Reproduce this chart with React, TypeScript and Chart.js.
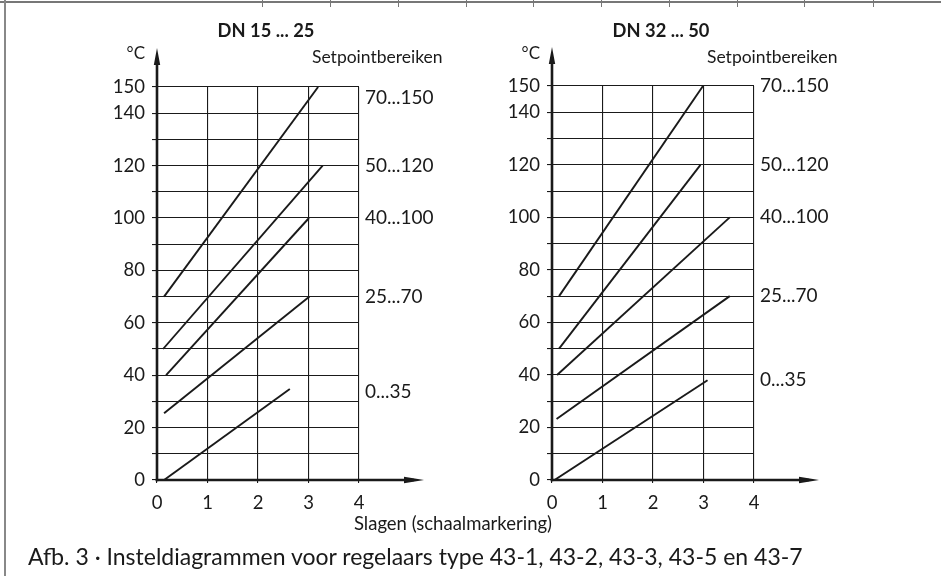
import React, { useEffect, useRef } from "react";
import { Chart, registerables } from "chart.js";

Chart.register(...registerables);

const FONT = "Lato, 'Open Sans', sans-serif";
const INK = "#1a1a1a";

// ---- data ----
const panelTitles = ["DN 15 ... 25", "DN 32 ... 50"];
const rangeLabels = ["70...150", "50...120", "40...100", "25...70", "0...35"];

// DN 15 ... 25
const leftStartX = [0.14, 0.12, 0.18, 0.14, 0.14];
const leftStartY = [70, 50, 40, 25.5, 0];
const leftEndX = [3.19, 3.28, 3.01, 3.02, 2.63];
const leftEndY = [150, 120, 100, 70, 34.7];
const leftLabelAt = [146, 120, 100, 70, 33.5];

// DN 32 ... 50
const rightStartX = [0.14, 0.14, 0.1, 0.09, 0.05];
const rightStartY = [70, 50, 40, 23.2, 0];
const rightEndX = [2.99, 2.94, 3.52, 3.52, 3.08];
const rightEndY = [150, 120, 100, 70, 38];
const rightLabelAt = [150, 120, 100, 70, 38];

const xTickValues = [0, 1, 2, 3, 4];
const yTickLabels = [0, 20, 40, 60, 80, 100, 120, 140, 150];
const yMin = 0;
const yMax = 150;
const yStep = 10;

const unitLabel = "°C";
const rangeHeader = "Setpointbereiken";
const xAxisTitle = "Slagen (schaalmarkering)";
const caption = "Afb. 3 · Insteldiagrammen voor regelaars type 43-1, 43-2, 43-3, 43-5 en 43-7";

type PanelSpec = {
  title: string;
  sx: number[];
  sy: number[];
  ex: number[];
  ey: number[];
  labelAt: number[];
  axisWidth: number;
  padRight: number;
  padTop: number;
};

const decorPlugin = {
  id: "decor",
  afterDraw(chart: any) {
    const o = chart.options.plugins.decor;
    const { ctx, chartArea: a } = chart;
    const yScale = chart.scales.y;
    ctx.save();
    ctx.strokeStyle = INK;
    ctx.fillStyle = INK;
    ctx.lineWidth = 2.6;
    ctx.lineCap = "butt";
    // y axis with arrow
    const yTip = a.top - 39;
    ctx.beginPath();
    ctx.moveTo(a.left, a.bottom + 1.3);
    ctx.lineTo(a.left, yTip + 10);
    ctx.stroke();
    ctx.beginPath();
    ctx.moveTo(a.left, yTip);
    ctx.lineTo(a.left - 3.2, yTip + 17);
    ctx.lineTo(a.left + 3.2, yTip + 17);
    ctx.closePath();
    ctx.fill();
    // x axis with arrow
    const xTip = a.right + 65;
    ctx.beginPath();
    ctx.moveTo(a.left - 1.3, a.bottom);
    ctx.lineTo(xTip - 10, a.bottom);
    ctx.stroke();
    ctx.beginPath();
    ctx.moveTo(xTip, a.bottom);
    ctx.lineTo(xTip - 20, a.bottom - 3.2);
    ctx.lineTo(xTip - 20, a.bottom + 3.2);
    ctx.closePath();
    ctx.fill();

    // title
    ctx.font = `bold 18.3px ${FONT}`;
    ctx.textAlign = "center";
    ctx.textBaseline = "alphabetic";
    ctx.fillText(o.title, (a.left + a.right) / 2 + 8, 37);
    // unit
    ctx.font = `17px ${FONT}`;
    ctx.textAlign = "right";
    ctx.fillText(unitLabel, a.left - 12, 59);
    // header
    ctx.font = `17.5px ${FONT}`;
    ctx.textAlign = "left";
    ctx.fillText(rangeHeader, a.right - 47, 63);
    // range labels
    ctx.font = `19px ${FONT}`;
    ctx.textBaseline = "middle";
    o.labels.forEach((t: string, i: number) => {
      ctx.fillText(t, a.right + 6, yScale.getPixelForValue(o.labelAt[i]));
    });
    ctx.restore();
  },
};

function makeConfig(p: PanelSpec): any {
  const datasets = p.sx.map((_, i) => ({
    label: rangeLabels[i],
    data: [
      { x: p.sx[i], y: p.sy[i] },
      { x: p.ex[i], y: p.ey[i] },
    ],
    borderColor: INK,
    borderWidth: 1.9,
    pointRadius: 0,
    fill: false,
    tension: 0,
  }));
  return {
    type: "line",
    data: { datasets },
    plugins: [decorPlugin],
    options: {
      animation: false,
      responsive: false,
      layout: { padding: { top: p.padTop, right: p.padRight, left: 0, bottom: 0 } },
      plugins: {
        legend: { display: false },
        tooltip: { enabled: false },
        decor: { title: p.title, labels: rangeLabels, labelAt: p.labelAt },
      },
      scales: {
        x: {
          type: "linear",
          min: 0,
          max: 4,
          afterBuildTicks: (s: any) => {
            s.ticks = xTickValues.map((v) => ({ value: v }));
          },
          afterFit: (s: any) => {
            s.height = 96;
          },
          grid: { color: INK, lineWidth: 1.1, tickLength: 3, drawTicks: true },
          border: { display: false },
          ticks: {
            color: INK,
            font: { family: FONT, size: 18.5 },
            padding: 9,
            maxRotation: 0,
            autoSkip: false,
            callback: (v: any) => String(v),
          },
        },
        y: {
          type: "linear",
          min: yMin,
          max: yMax,
          afterBuildTicks: (s: any) => {
            const t = [];
            for (let v = yMin; v <= yMax; v += yStep) t.push({ value: v });
            s.ticks = t;
          },
          afterFit: (s: any) => {
            s.width = p.axisWidth;
          },
          grid: { color: INK, lineWidth: 1.1, tickLength: 5, drawTicks: true },
          border: { display: false },
          ticks: {
            color: INK,
            font: { family: FONT, size: 18.5 },
            padding: 7,
            autoSkip: false,
            callback: (v: any) => (yTickLabels.includes(v) ? String(v) : ""),
          },
        },
      },
    },
  };
}

function Panel({ spec, left, width }: { spec: PanelSpec; left: number; width: number }) {
  const ref = useRef<HTMLCanvasElement>(null);
  useEffect(() => {
    if (!ref.current) return;
    const chart = new Chart(ref.current, makeConfig(spec));
    return () => chart.destroy();
  }, []);
  return (
    <canvas
      ref={ref}
      width={width}
      height={576}
      style={{ position: "absolute", left, top: 0, width, height: 576 }}
    />
  );
}

const separators = [262, 330, 398, 466, 533, 601, 669, 737, 804, 873];

export default function App() {
  const leftSpec: PanelSpec = {
    title: panelTitles[0],
    sx: leftStartX,
    sy: leftStartY,
    ex: leftEndX,
    ey: leftEndY,
    labelAt: leftLabelAt,
    axisWidth: 157,
    padRight: 470 - 359,
    padTop: 87,
  };
  const rightSpec: PanelSpec = {
    title: panelTitles[1],
    sx: rightStartX,
    sy: rightStartY,
    ex: rightEndX,
    ey: rightEndY,
    labelAt: rightLabelAt,
    axisWidth: 82,
    padRight: 471 - 284,
    padTop: 86,
  };
  return (
    <div
      style={{
        position: "absolute",
        left: 0,
        top: 0,
        width: 941,
        height: 576,
        background: "#fff",
        overflow: "hidden",
        fontFamily: FONT,
        color: INK,
      }}
    >
      <div style={{ position: "absolute", left: 0, top: 1, width: 941, height: 2, background: "#777" }} />
      <div style={{ position: "absolute", left: 4, top: 0, width: 2, height: 576, background: "#888" }} />
      {separators.map((x) => (
        <div key={x} style={{ position: "absolute", left: x, top: 0, width: 1, height: 7, background: "#777" }} />
      ))}
      <Panel spec={leftSpec} left={0} width={470} />
      <Panel spec={rightSpec} left={470} width={471} />
      <div
        style={{
          position: "absolute",
          left: 253,
          width: 400,
          top: 513,
          textAlign: "center",
          fontSize: 18.5,
          lineHeight: "20px",
          whiteSpace: "nowrap",
        }}
      >
        {xAxisTitle}
      </div>
      <div
        style={{
          position: "absolute",
          left: 28,
          top: 544,
          fontSize: 23,
          lineHeight: "24px",
          whiteSpace: "nowrap",
        }}
      >
        {caption}
      </div>
    </div>
  );
}
